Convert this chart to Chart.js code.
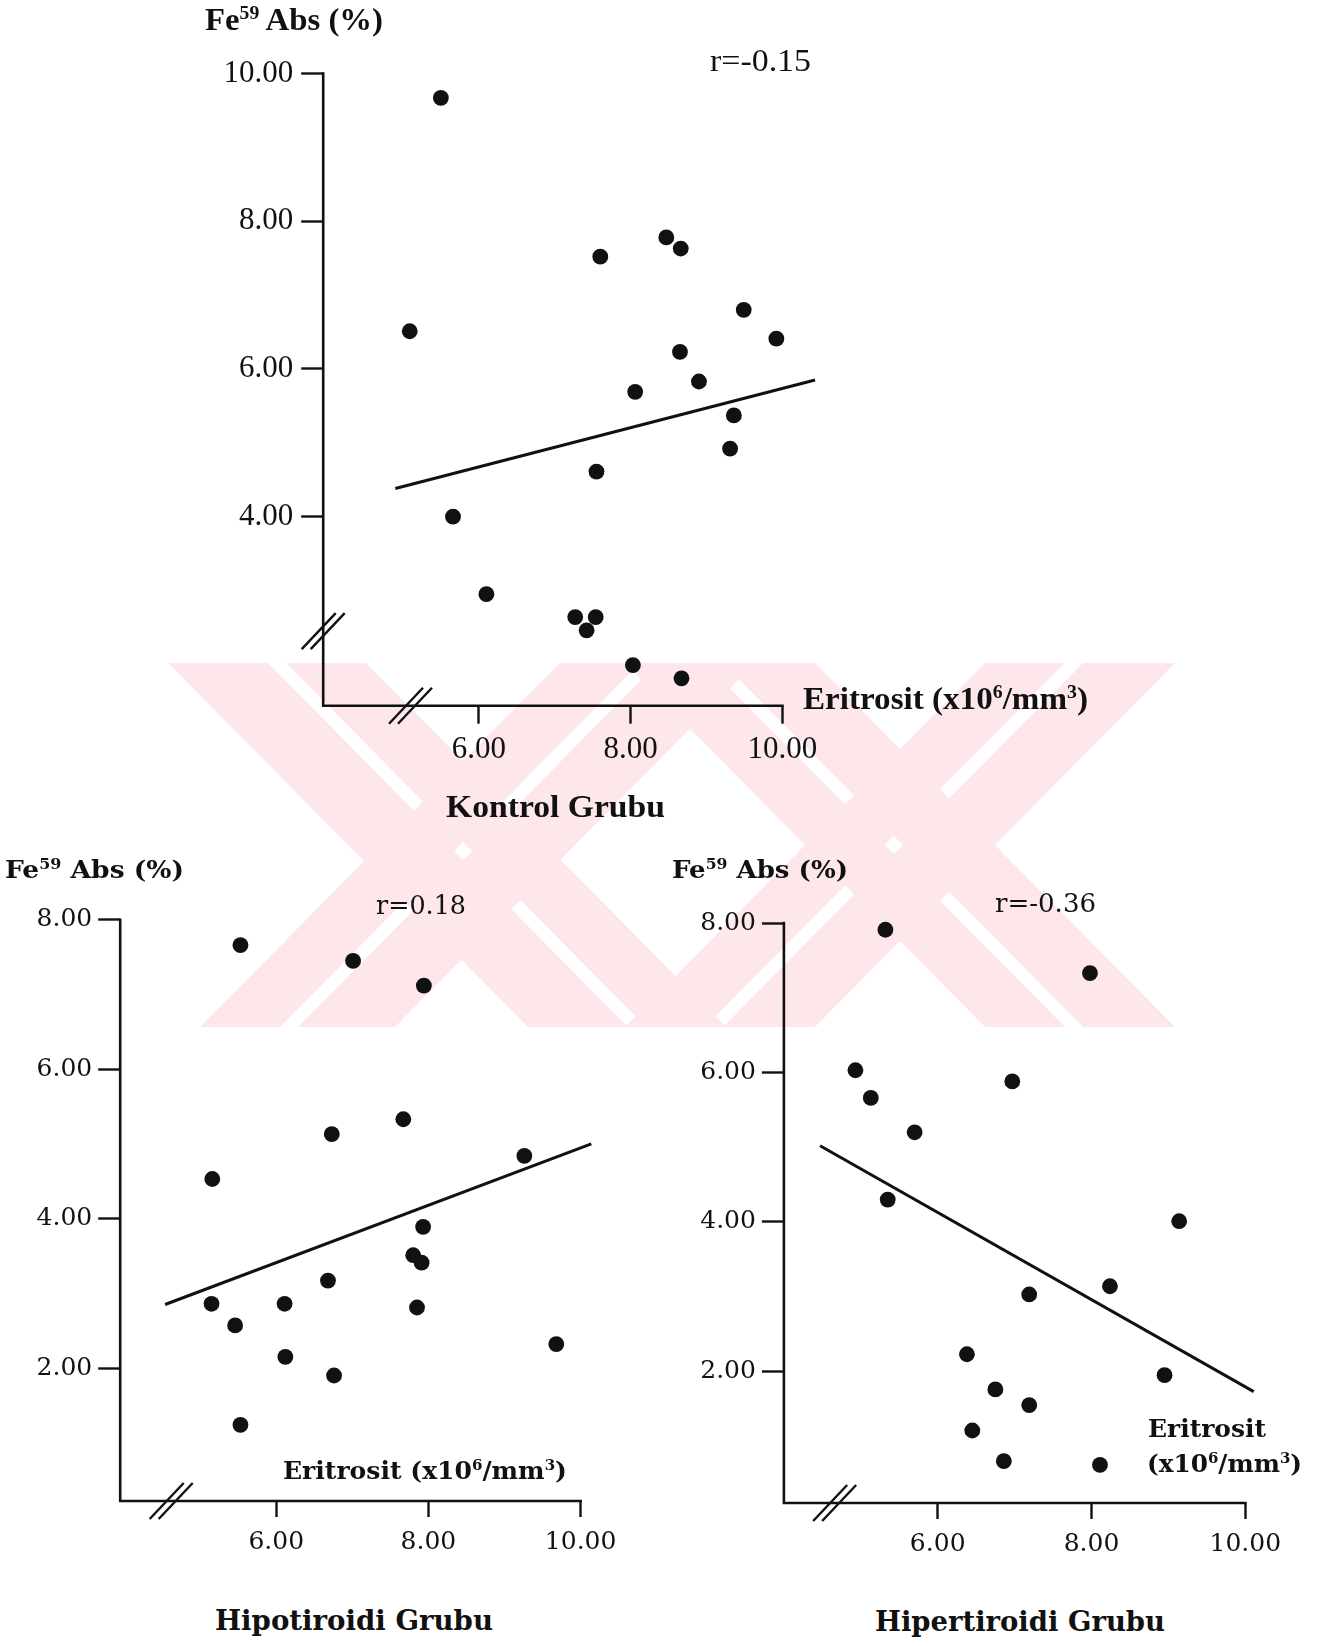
<!DOCTYPE html>
<html><head><meta charset="utf-8">
<script src="https://cdn.jsdelivr.net/npm/chart.js@4.4.1/dist/chart.umd.min.js"></script>
<style>
html,body{margin:0;padding:0;background:#fff;}
#page{position:relative;width:1325px;height:1646px;overflow:hidden;background:#fff;}
#wm{position:absolute;left:0;top:0;}
canvas{position:absolute;}
.t{position:absolute;white-space:nowrap;line-height:1;color:#111;transform-origin:0 50%;}
.lib{font-family:"Liberation Serif",serif;}
.dv{font-family:"DejaVu Serif",serif;}
.b{font-weight:bold;}
sup{font-size:0.6em;position:relative;top:-0.55em;line-height:0;vertical-align:baseline;}
</style></head>
<body><div id="page">
<svg id="wm" width="1325" height="1646" xmlns="http://www.w3.org/2000/svg">
  <g fill="#fde7eb">
    <polygon points="168,663 268,663 628,1027 528,1027"/>
    <polygon points="286,663 366,663 726,1027 646,1027"/>
    <polygon points="560,663 640,663 280,1027 200,1027"/>
    <polygon points="658,663 755,663 395,1027 298,1027"/>
    <polygon points="625,663 705,663 1065,1027 985,1027"/>
    <polygon points="723,663 815,663 1175,1027 1083,1027"/>
    <polygon points="985,663 1065,663 705,1027 625,1027"/>
    <polygon points="1083,663 1175,663 815,1027 723,1027"/>
  </g>
</svg>
<canvas id="c1" width="900" height="800" style="left:0;top:0"></canvas>
<canvas id="c2" width="660" height="760" style="left:0;top:840px"></canvas>
<canvas id="c3" width="665" height="760" style="left:660px;top:840px"></canvas>

<div class="t lib b" data-l="205" data-cy="19" data-fs="31" data-w="178">Fe<sup>59</sup> Abs (%)</div>
<div class="t lib" data-l="710" data-cy="60" data-fs="31" data-w="101">r=-0.15</div>
<div class="t lib b" data-l="803" data-cy="698" data-fs="31" data-w="285">Eritrosit (x10<sup>6</sup>/mm<sup>3</sup>)</div>
<div class="t lib b" data-l="446" data-cy="806" data-fs="31" data-w="219">Kontrol Grubu</div>

<div class="t dv b" data-l="5" data-cy="869" data-fs="25" data-w="179">Fe<sup>59</sup> Abs (%)</div>
<div class="t dv" data-l="376" data-cy="905" data-fs="26" data-w="90">r=0.18</div>
<div class="t dv b" data-l="283" data-cy="1470" data-fs="25" data-w="284">Eritrosit (x10<sup>6</sup>/mm<sup>3</sup>)</div>
<div class="t dv b" data-l="215" data-cy="1621" data-fs="28" data-w="278">Hipotiroidi Grubu</div>

<div class="t dv b" data-l="672" data-cy="869" data-fs="25" data-w="176">Fe<sup>59</sup> Abs (%)</div>
<div class="t dv" data-l="995" data-cy="903" data-fs="26" data-w="101">r=-0.36</div>
<div class="t dv b" data-l="1148" data-cy="1428" data-fs="25" data-w="118">Eritrosit</div>
<div class="t dv b" data-l="1147" data-cy="1463" data-fs="25" data-w="155">(x10<sup>6</sup>/mm<sup>3</sup>)</div>
<div class="t dv b" data-l="875" data-cy="1622" data-fs="28" data-w="290">Hipertiroidi Grubu</div>
</div>
<script>
// ---- Data ----
const xTicks = [6, 8, 10];
const kontrolYTicks = [4, 6, 8, 10];
const tiroidYTicks = [2, 4, 6, 8];

const kontrolX = [5.50, 5.09, 7.60, 8.47, 8.66, 9.49, 9.92, 8.65, 8.90, 8.06, 9.36, 9.31, 7.55, 5.66, 6.10, 7.27, 7.54, 7.42, 8.03, 8.67];
const kontrolY = [9.67, 6.51, 7.52, 7.78, 7.63, 6.80, 6.41, 6.23, 5.83, 5.69, 5.37, 4.92, 4.61, 4.00, 2.95, 2.64, 2.64, 2.46, 1.99, 1.81];
const kontrolLineX = [4.90, 10.43];
const kontrolLineY = [4.38, 5.85];

const hipoX = [5.53, 7.01, 7.94, 7.67, 6.73, 5.16, 9.26, 7.93, 7.80, 7.91, 6.68, 5.15, 6.11, 7.85, 5.46, 6.12, 6.76, 9.68, 5.53];
const hipoY = [7.66, 7.45, 7.12, 5.33, 5.13, 4.53, 4.84, 3.89, 3.51, 3.41, 3.17, 2.86, 2.86, 2.81, 2.57, 2.15, 1.90, 2.32, 1.24];
const hipoLineX = [4.54, 10.14];
const hipoLineY = [2.85, 5.00];

const hiperX = [5.32, 7.98, 4.93, 6.97, 5.13, 5.70, 5.35, 9.14, 8.24, 7.19, 6.38, 8.95, 6.75, 7.19, 6.45, 6.86, 8.11];
const hiperY = [7.91, 7.33, 6.03, 5.88, 5.66, 5.20, 4.30, 4.01, 3.14, 3.03, 2.23, 1.95, 1.76, 1.55, 1.21, 0.80, 0.75];
const hiperLineX = [4.47, 10.11];
const hiperLineY = [5.02, 1.73];

// ---- text placement ----
document.querySelectorAll('.t').forEach(el => {
  const fs = +el.dataset.fs;
  el.style.fontSize = fs + 'px';
  el.style.left = el.dataset.l + 'px';
  el.style.top = (+el.dataset.cy - fs / 2) + 'px';
  const w = el.getBoundingClientRect().width;
  const target = +el.dataset.w;
  if (w > 0) el.style.transform = 'scaleX(' + (target / w).toFixed(4) + ')';
});

// ---- axis plugin: axis lines ending at last tick, and break marks ----
const axisPlugin = {
  id: 'axisLines',
  afterDatasetsDraw(chart, args, o) {
    const {ctx, chartArea, scales} = chart;
    const x = scales.x, y = scales.y;
    const left = chartArea.left, bottom = chartArea.bottom;
    ctx.save();
    ctx.strokeStyle = '#111';
    ctx.lineWidth = o.width;
    ctx.lineCap = 'square';
    ctx.beginPath();
    ctx.moveTo(left, y.getPixelForValue(o.yEnd));
    ctx.lineTo(left, bottom);
    ctx.lineTo(x.getPixelForValue(o.xEnd), bottom);
    ctx.stroke();
    ctx.lineCap = 'butt';
    ctx.lineWidth = o.slashWidth;
    (o.breaks || []).forEach(b => {
      const cx = b.axis === 'x' ? x.getPixelForValue(b.value) : left;
      const cy = b.axis === 'x' ? bottom : y.getPixelForValue(b.value);
      [-o.gap / 2, o.gap / 2].forEach(off => {
        ctx.beginPath();
        ctx.moveTo(cx - o.dx + off, cy + o.dy);
        ctx.lineTo(cx + o.dx + off, cy - o.dy);
        ctx.stroke();
      });
    });
    ctx.restore();
  }
};

function makeChart(id, c) {
  const pts = c.xs.map((v, i) => ({x: v, y: c.ys[i]}));
  const line = c.lx.map((v, i) => ({x: v, y: c.ly[i]}));
  const font = {family: c.family, size: c.fontSize};
  return new Chart(document.getElementById(id), {
    type: 'scatter',
    data: {datasets: [
      {data: line, showLine: true, borderColor: '#111', borderWidth: 3, pointRadius: 0, clip: false},
      {data: pts, pointRadius: 7.9, pointBackgroundColor: '#111', pointBorderWidth: 0, clip: false}
    ]},
    options: {
      responsive: false, animation: false, devicePixelRatio: 1,
      layout: {padding: c.pad},
      plugins: {legend: {display: false}, tooltip: {enabled: false},
        axisLines: {width: 2.6, slashWidth: 2.4, xEnd: 10, yEnd: c.yMax, breaks: c.breaks, dx: 17, dy: 18, gap: 9}},
      scales: {
        x: {type: 'linear', min: c.xMin, max: 10.5,
          afterBuildTicks: s => { s.ticks = xTicks.map(v => ({value: v})); },
          afterFit: s => { s.height = c.xHeight; },
          border: {display: false},
          grid: {drawOnChartArea: false, drawTicks: true, tickLength: c.xTickLen, tickColor: '#111', tickWidth: 2.4},
          ticks: {font, color: '#111', padding: c.xPad, maxRotation: 0, callback: v => Number(v).toFixed(2)}},
        y: {type: 'linear', min: c.yMin, max: c.yMax,
          afterBuildTicks: s => { s.ticks = c.yTicks.map(v => ({value: v})); },
          afterFit: s => { s.width = c.yWidth; },
          border: {display: false},
          grid: {drawOnChartArea: false, drawTicks: true, tickLength: c.yTickLen, tickColor: '#111', tickWidth: 2.4},
          ticks: {font, color: '#111', padding: c.yPad, callback: v => Number(v).toFixed(2)}}
      }
    },
    plugins: [axisPlugin]
  });
}

makeChart('c1', {xs: kontrolX, ys: kontrolY, lx: kontrolLineX, ly: kontrolLineY,
  xMin: 3.95, yMin: 1.44, yMax: 10, yTicks: kontrolYTicks,
  family: 'Liberation Serif', fontSize: 31,
  pad: {top: 73.5, right: 79.6, left: 0, bottom: 0}, yWidth: 323.2, xHeight: 94.3,
  xTickLen: 18, yTickLen: 22, xPad: 8, yPad: 8,
  breaks: [{axis: 'y', value: 2.45}, {axis: 'x', value: 5.1}]});

makeChart('c2', {xs: hipoX, ys: hipoY, lx: hipoLineX, ly: hipoLineY,
  xMin: 3.95, yMin: 0.22, yMax: 8, yTicks: tiroidYTicks,
  family: 'DejaVu Serif', fontSize: 25,
  pad: {top: 79.8, right: 41.3, left: 0, bottom: 0}, yWidth: 120.2, xHeight: 99,
  xTickLen: 16, yTickLen: 22, xPad: 10, yPad: 6,
  breaks: [{axis: 'x', value: 4.62}]});

makeChart('c3', {xs: hiperX, ys: hiperY, lx: hiperLineX, ly: hiperLineY,
  xMin: 4.0, yMin: 0.24, yMax: 8, yTicks: tiroidYTicks,
  family: 'DejaVu Serif', fontSize: 25,
  pad: {top: 83, right: 41.25, left: 0, bottom: 0}, yWidth: 123.9, xHeight: 97,
  xTickLen: 16, yTickLen: 22, xPad: 10, yPad: 6,
  breaks: [{axis: 'x', value: 4.66}]});
</script>
</body></html>
